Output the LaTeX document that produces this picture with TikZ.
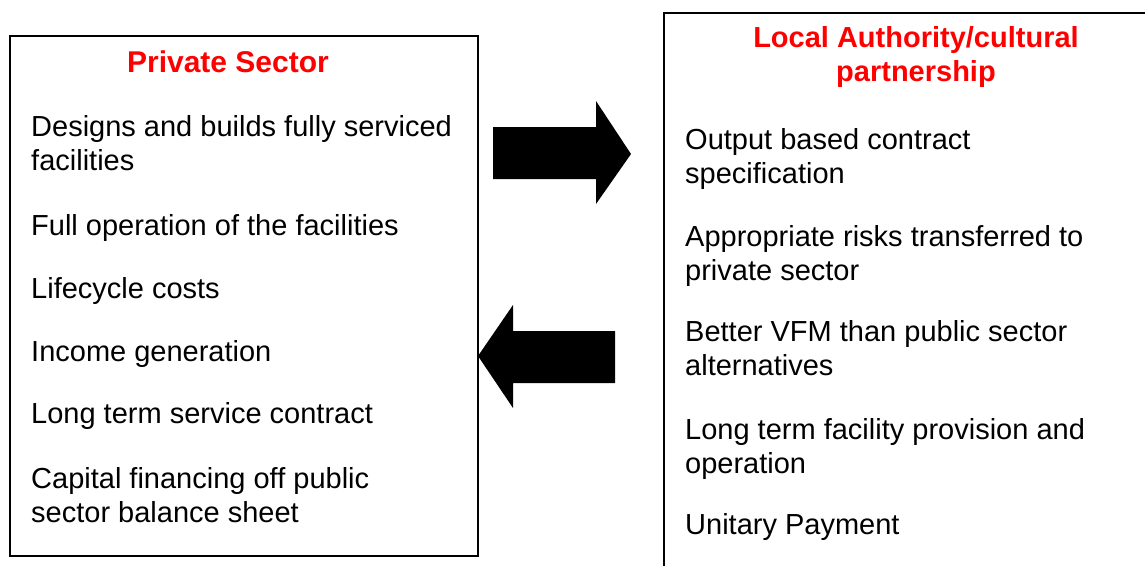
\documentclass[tikz,border=0pt]{standalone}
\usepackage{fontspec}
\setmainfont{Liberation Sans}

\definecolor{titlered}{RGB}{255,0,0}

\tikzset{
  box/.style={draw, line width=2pt},
  heading/.style={anchor=base, align=center, inner sep=0pt, text=titlered,
    font=\fontsize{30}{34}\selectfont\bfseries},
  item/.style={anchor=north west, align=left, inner sep=0pt,
    font=\fontsize{29}{34}\selectfont},
}

\begin{document}
\begin{tikzpicture}[x=1pt, y=-1pt]
\useasboundingbox (0,0) rectangle (1145,565);
\clip (0,0) rectangle (1145,565);

% private sector
\draw[box] (10,36) rectangle (478,556);
\node[heading] (pstitle) at (228,72) {Private Sector};
\node[item] (ps1) at (31,115) {Designs and builds fully serviced\\facilities};
\node[item] (ps2) at (31,214) {Full operation of the facilities};
\node[item] (ps3) at (31,277) {Lifecycle costs};
\node[item] (ps4) at (31,340) {Income generation};
\node[item] (ps5) at (31,402) {Long term service contract};
\node[item] (ps6) at (31,467) {Capital financing off public\\sector balance sheet};

% local authority side, runs off the page
\draw[box] (664,13) rectangle (1170,590);
\node[heading, font=\fontsize{29}{34}\selectfont\bfseries] (latitle) at (916,81) {Local Authority/cultural\\partnership};
\node[item] (la1) at (685,128) {Output based contract\\specification};
\node[item] (la2) at (685,225) {Appropriate risks transferred to\\private sector};
\node[item] (la3) at (685,320) {Better VFM than public sector\\alternatives};
\node[item] (la4) at (685,418) {Long term facility provision and\\operation};
\node[item] (la5) at (685,513) {Unitary Payment};

% block arrows
\fill (493,127) -- (596,127) -- (596,101) -- (631,154) -- (596,204) -- (596,179) -- (493,179) -- cycle;
\fill (615,331) -- (513,331) -- (513,305) -- (478,356) -- (513,408) -- (513,383) -- (615,383) -- cycle;
\end{tikzpicture}
\end{document}
